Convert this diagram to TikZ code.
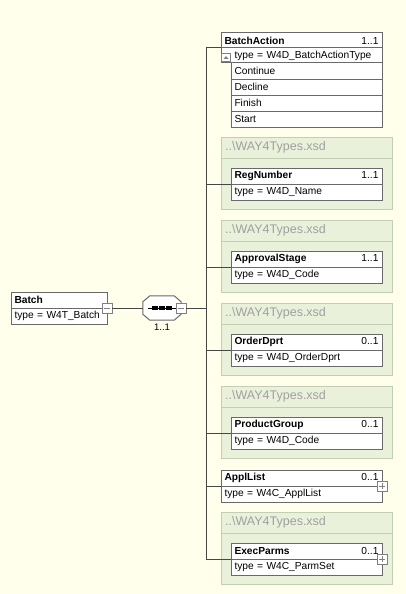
\documentclass[tikz,border=0pt]{standalone}
\usepackage{fontspec}
\setmainfont{Liberation Sans}
\definecolor{bgcol}{RGB}{255,255,235}
\definecolor{grpfill}{RGB}{234,241,219}
\definecolor{grpline}{RGB}{195,207,178}
\definecolor{boxline}{RGB}{105,105,105}
\definecolor{connline}{RGB}{70,70,70}
\definecolor{grptext}{RGB}{160,160,160}
\definecolor{signcol}{RGB}{128,128,128}

\tikzset{
  txt/.style={font=\fontsize{10.2}{12}\selectfont},
  row/.style={txt, draw=boxline, fill=white, line width=1pt, outer sep=0pt,
    inner xsep=3.5pt, inner ysep=0pt, anchor=north west, minimum height=16pt,
    text width=#1, align=left},
  grpbox/.style={draw=grpline, fill=grpfill, line width=1pt, outer sep=0pt,
    inner sep=0pt, anchor=north west, minimum width=171pt, minimum height=72pt},
  grptitle/.style={font=\fontsize{12.5}{15}\selectfont, text=grptext,
    anchor=west, inner sep=0pt},
  conn/.style={draw=connline, line width=1pt},
  togglebox/.style={draw=signcol, fill=white, line width=0.8pt,
    minimum size=10pt, inner sep=0pt, outer sep=0pt},
  minusbox/.style={togglebox, path picture={
    \draw[signcol, line width=0.8pt]
      ([xshift=-3pt]path picture bounding box.center) --
      ([xshift=3pt]path picture bounding box.center);}},
  plusbox/.style={togglebox, path picture={
    \draw[signcol, line width=0.8pt]
      ([xshift=-3pt]path picture bounding box.center) --
      ([xshift=3pt]path picture bounding box.center)
      ([yshift=-3pt]path picture bounding box.center) --
      ([yshift=3pt]path picture bounding box.center);}},
}

% an imported-schema frame: name, top edge
\newcommand\importframe[2]{%
  \node[grpbox] (#1) at (221,#2) {};
  \draw[draw=grpline, line width=1pt]
    ([yshift=-21pt]#1.north west) -- ([yshift=-21pt]#1.north east);
  \node[grptitle] (#1-title) at ([xshift=4pt,yshift=-10.5pt]#1.north west)
    {..\textbackslash WAY4Types.xsd};
}

% an element box: name, left, top, text width, name, cardinality, type
\newcommand\elembox[7]{%
  \node[row=#4] (#1) at (#2,#3) {\textbf{#5}\hfill #6};
  \node[row=#4] (#1-type) at (#1.south west) {#7};
}

\begin{document}
\begin{tikzpicture}[x=1pt,y=-1pt]
  \fill[bgcol] (0,0) rectangle (406,594);
  \useasboundingbox (0,0) rectangle (406,594);

  % imported frames
  \importframe{g1}{137}
  \importframe{g2}{220}
  \importframe{g3}{303}
  \importframe{g4}{386}
  \importframe{g5}{512}

  % root element
  \elembox{batch}{11}{292}{89pt}{Batch}{}{type = W4T\_Batch}
  \node[minusbox] (batchtog) at (batch.south east) {};

  % sequence compositor
  \node[inner sep=0pt, minimum width=38pt, minimum height=24pt] (seq) at (162,308) {};
  \draw[draw=boxline, fill=white, line width=1pt]
    ([xshift=7pt]seq.north west) -- ([xshift=-7pt]seq.north east)
    -- ([yshift=-6pt]seq.north east) -- ([yshift=6pt]seq.south east)
    -- ([xshift=-7pt]seq.south east) -- ([xshift=7pt]seq.south west)
    -- ([yshift=6pt]seq.south west) -- ([yshift=-6pt]seq.north west) -- cycle;
  \draw[black, line width=0.8pt]
    ([xshift=-14pt]seq.center) -- ([xshift=14pt]seq.center);
  \foreach \dx in {-7,0,7}
    \fill[black] ([xshift=\dx pt-3pt,yshift=-1.6pt]seq.center)
      rectangle ([xshift=\dx pt+3pt,yshift=1.6pt]seq.center);
  \node[minusbox] (seqtog) at (seq.east) {};
  \node[txt, font=\fontsize{9.5}{11}\selectfont, inner sep=0pt] (seqcard)
    at (162,327) {1..1};

  % BatchAction with its enumeration
  \node[row=154pt, minimum height=15pt] (ba) at (221,33)
    {\textbf{BatchAction}\hfill 1..1};
  \node[row=154pt, minimum height=15pt] (ba-type) at (ba.south west)
    {\hspace*{10pt}type = W4D\_BatchActionType};
  \node[draw=signcol, fill=white, line width=0.7pt, inner sep=0pt, outer sep=0pt,
    minimum width=9pt, minimum height=8pt, anchor=south west] (ba-icon)
    at ([xshift=0.5pt,yshift=1.5pt]ba-type.south west) {};
  \fill[signcol] ([xshift=-2.5pt,yshift=-1.5pt]ba-icon.center)
    -- ([xshift=2.5pt,yshift=-1.5pt]ba-icon.center)
    -- ([yshift=1.5pt]ba-icon.center) -- cycle;
  \node[row=144pt] (e1) at ([xshift=10pt]ba-type.south west) {Continue};
  \node[row=144pt] (e2) at (e1.south west) {Decline};
  \node[row=144pt] (e3) at (e2.south west) {Finish};
  \node[row=144pt] (e4) at (e3.south west) {Start};

  % child elements
  \elembox{reg}{231}{168}{144pt}{RegNumber}{1..1}{type = W4D\_Name}
  \elembox{appr}{231}{251}{144pt}{ApprovalStage}{1..1}{type = W4D\_Code}
  \elembox{ord}{231}{334}{144pt}{OrderDprt}{0..1}{type = W4D\_OrderDprt}
  \elembox{prod}{231}{417}{144pt}{ProductGroup}{0..1}{type = W4D\_Code}
  \elembox{appl}{221}{470}{154pt}{ApplList}{0..1\hspace*{5pt}}{type = W4C\_ApplList}
  \node[plusbox] (appltog) at (appl.south east) {};
  \elembox{exec}{231}{543}{144pt}{ExecParms}{0..1\hspace*{5pt}}{type = W4C\_ParmSet}
  \node[plusbox] (exectog) at (exec.south east) {};

  % connectors
  \coordinate (trunk) at (206,308);
  \draw[conn] (batchtog.east) -- (seq.west);
  \draw[conn] (seqtog.east) -- (trunk);
  \draw[conn] (ba.south west) -- (ba.south west -| trunk)
    -- (exec.south west -| trunk) -- (exec.south west);
  \foreach \n in {reg,appr,ord,prod,appl}
    \draw[conn] (\n.south west -| trunk) -- (\n.south west);
\end{tikzpicture}
\end{document}
